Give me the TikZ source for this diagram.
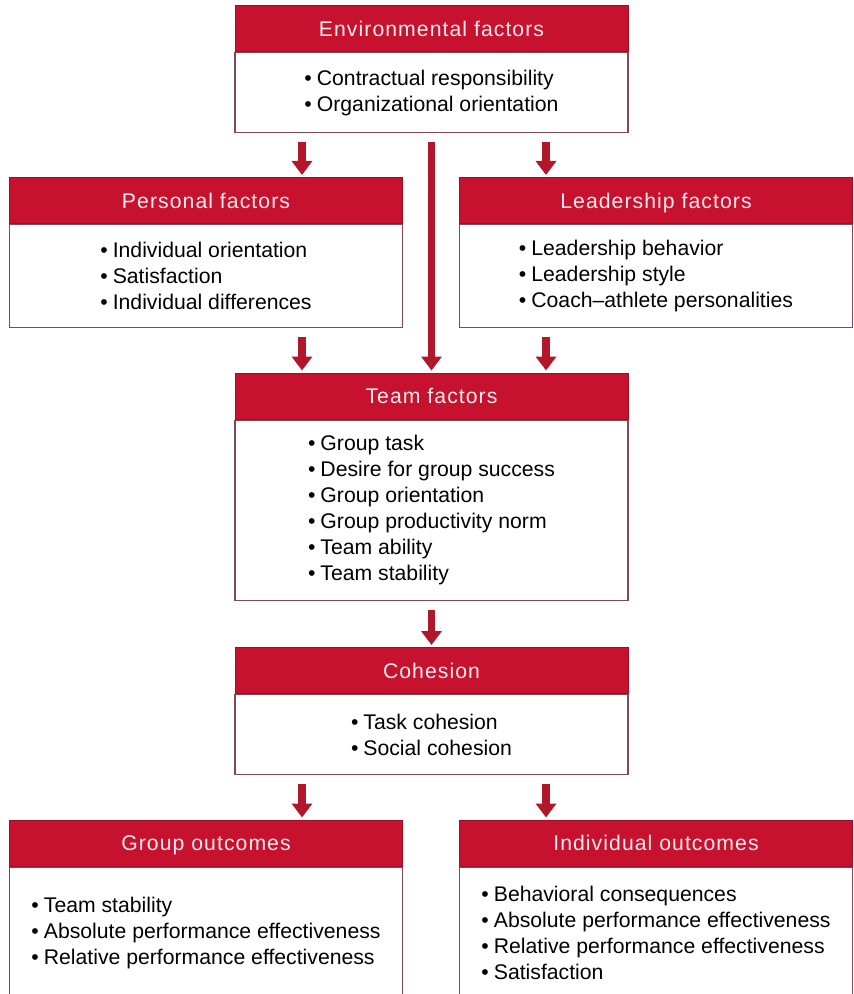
\documentclass[tikz,border=0pt]{standalone}
\usepackage{fontspec}
\setmainfont{Liberation Sans}
\newfontfamily\headfont[LetterSpace=5]{Liberation Sans}
\usetikzlibrary{arrows.meta, positioning}
\definecolor{HeadRed}{RGB}{198,18,46}
\definecolor{ArrowRed}{RGB}{178,22,42}
\definecolor{EdgeGray}{RGB}{128,74,84}
\newcommand{\bul}{\textbullet\hspace{2.5pt}}

\begin{document}
\begin{tikzpicture}[
  x=0.5pt, y=-0.5pt,
  font=\fontsize{10.6}{13}\selectfont,
  hdr/.style={draw=HeadRed!80!black, line width=0.5pt, fill=HeadRed, text=white!92!red, minimum width=196.5pt, minimum height=23pt, inner sep=0pt, text height=8.8pt, text depth=1.2pt, font=\headfont\fontsize{10.6}{13}\selectfont},
  body/.style={draw=EdgeGray, line width=0.6pt, fill=white, minimum width=196.5pt, align=left, inner sep=0pt, below=0pt of #1},
  arr/.style={-{Triangle[width=10pt, length=7pt]}, line width=3.6pt, ArrowRed, shorten <=4.5pt, shorten >=1pt}
]
  \useasboundingbox (0,0) rectangle (853,994);
  \clip (0,0) rectangle (853,994);
  \coordinate (colL) at (302,0);
  \coordinate (colR) at (546,0);

  % Environmental factors (top)
  \node[hdr] (envh) at (431.5, 28.5) {Environmental factors};
  \node[body=envh, minimum height=40pt] (envb) {\bul Contractual responsibility\\ \bul Organizational orientation};

  % Personal and leadership factors
  \node[hdr] (perh) at (206, 200.5) {Personal factors};
  \node[body=perh, minimum height=51.5pt] (perb) {\bul Individual orientation\\ \bul Satisfaction\\ \bul Individual differences};
  \node[hdr] (leah) at (656, 200.5) {Leadership factors};
  \node[body=leah, minimum height=51.5pt] (leab) {\bul Leadership behavior\\ \bul Leadership style\\ \bul Coach--athlete personalities};

  % Team factors
  \node[hdr] (teamh) at (431.5, 396) {Team factors};
  \node[body=teamh, minimum height=90pt] (teamb) {\bul Group task\\ \bul Desire for group success\\ \bul Group orientation\\ \bul Group productivity norm\\ \bul Team ability\\ \bul Team stability};

  % Cohesion
  \node[hdr] (cohh) at (431.5, 670.5) {Cohesion};
  \node[body=cohh, minimum height=40pt] (cohb) {\bul Task cohesion\\ \bul Social cohesion};

  % Outcomes (bottom row, cut off by the page)
  \node[hdr] (grph) at (206, 843) {Group outcomes};
  \node[body=grph, minimum height=66pt] (grpb) {\bul Team stability\\ \bul Absolute performance effectiveness\\ \bul Relative performance effectiveness};
  \node[hdr] (indh) at (656, 843) {Individual outcomes};
  \node[body=indh, minimum height=66pt] (indb) {\bul Behavioral consequences\\ \bul Absolute performance effectiveness\\ \bul Relative performance effectiveness\\ \bul Satisfaction};

  \draw[arr] (envb.south -| colL) -- (perh.north -| colL);
  \draw[arr] (envb.south -| colR) -- (leah.north -| colR);
  \draw[arr] (envb.south) -- (teamh.north);
  \draw[arr] (perb.south -| colL) -- (teamh.north -| colL);
  \draw[arr] (leab.south -| colR) -- (teamh.north -| colR);
  \draw[arr] (teamb.south) -- (cohh.north);
  \draw[arr] (cohb.south -| colL) -- (grph.north -| colL);
  \draw[arr] (cohb.south -| colR) -- (indh.north -| colR);
\end{tikzpicture}
\end{document}
